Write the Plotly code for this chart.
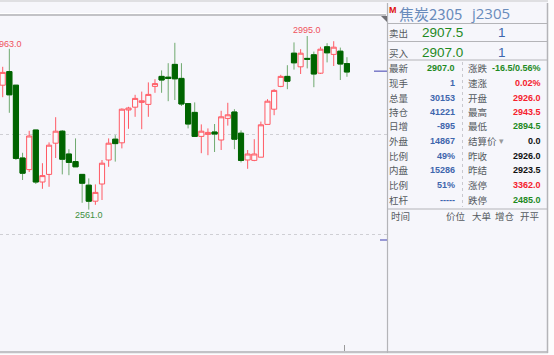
import plotly.graph_objects as go

opens  = [2872,2906,2872,2690,2661,2760,2630,2649,2727,2757,2700,2681,2649,2622,2582,2625,2685,2737,2728,2810,2817,2829,2824,2869,2894,2892,2924,2889,2826,2804,2744,2749,2755,2735,2789,2805,2752,2685,2684,2692,2774,2812,2869,2894,2952,2918,2939,2948,2902,2968,2949,2957,2926]
highs  = [2918,2963,2872,2703,2758,2760,2677,2729,2792,2760,2712,2739,2649,2639,2624,2685,2739,2747,2814,2818,2848,2856,2879,2887,2909,2927,2978,2927,2826,2829,2774,2764,2775,2808,2828,2812,2759,2710,2737,2781,2837,2862,2898,2922,2979,2962,2995,2956,2968,2977,2982,2966,2942]
lows   = [2842,2803,2685,2635,2655,2625,2613,2618,2690,2649,2647,2668,2578,2561,2573,2585,2668,2681,2714,2763,2793,2762,2793,2853,2853,2832,2835,2820,2764,2744,2702,2697,2705,2710,2771,2712,2679,2663,2682,2692,2774,2797,2867,2862,2911,2900,2914,2867,2900,2929,2920,2885,2893]
closes = [2904,2848,2689,2652,2745,2630,2646,2722,2757,2687,2679,2668,2627,2582,2604,2677,2727,2726,2812,2815,2839,2833,2849,2876,2885,2889,2888,2825,2775,2744,2757,2754,2750,2793,2798,2737,2684,2700,2700,2773,2832,2859,2894,2882,2928,2952,2937,2900,2962,2953,2967,2925,2905]
positions = list(range(len(opens)))

grid_prices = [2750, 2500]
last_price = 2907
limit_down = 2485

title_left = "焦炭2305"
title_right = "j2305"
ask = ("卖出", "2907.5", "1")
bid = ("买入", "2907.0", "1")

GREEN, RED, BLUE, BLACK = "#1f8a1f", "#f5222d", "#3f66ad", "#111111"
left_rows = [("最新","2907.0",GREEN),("现手","1",BLUE),("总量","30153",BLUE),("持仓","41221",BLUE),("日增","-895",BLUE),
             ("外盘","14867",BLUE),("比例","49%",BLUE),("内盘","15286",BLUE),("比例","51%",BLUE),("杠杆","-----",BLUE)]
right_rows = [("涨跌","-16.5/0.56%",GREEN),("速涨","0.02%",RED),("开盘","2926.0",RED),("最高","2943.5",RED),("最低","2894.5",GREEN),
              ("结算价","0.0",BLACK),("昨收","2926.0",BLACK),("昨结","2923.5",BLACK),("涨停","3362.0",RED),("跌停","2485.0",GREEN)]
row_y = [68.5,83,97.5,112,126.5,141,155.5,170,185,199.5]
footer = [("时间",391),("价位",446),("大单",472),("增仓",495),("开平",520)]

W, H = 554, 355
BG = "#f6f6fb"
LINE = "#b4b4b8"
LABEL = "#555a60"
CJK = "Noto Sans CJK SC"
NUM = "Liberation Sans"

def px(x): return x / W
def py(y): return 1 - y / H

fig = go.Figure(go.Candlestick(
    x=positions, open=opens, high=highs, low=lows, close=closes,
    increasing=dict(line=dict(color="#ff5a64", width=1), fillcolor="#fafafd"),
    decreasing=dict(line=dict(color="#6fa96f", width=1), fillcolor="#006400"),
    whiskerwidth=0, hoverinfo="skip", showlegend=False,
))
# darker bodies over the lighter green wicks
fig.add_trace(go.Candlestick(
    x=positions, open=opens, close=closes,
    high=[max(o, c) for o, c in zip(opens, closes)],
    low=[min(o, c) for o, c in zip(opens, closes)],
    increasing=dict(line=dict(color="rgba(0,0,0,0)", width=0), fillcolor="rgba(0,0,0,0)"),
    decreasing=dict(line=dict(color="#006400", width=1), fillcolor="#006400"),
    whiskerwidth=0, hoverinfo="skip", showlegend=False,
))

shapes = []
def rect(x0, y0, x1, y1, color):
    shapes.append(dict(type="rect", xref="paper", yref="paper", x0=px(x0), x1=px(x1), y0=py(y0), y1=py(y1),
                       fillcolor=color, line=dict(width=0), layer="below"))
def hline(x0, x1, y, color=LINE, w=1, dash="solid"):
    shapes.append(dict(type="line", xref="paper", yref="paper", x0=px(x0), x1=px(x1), y0=py(y), y1=py(y),
                       line=dict(color=color, width=w, dash=dash), layer="above"))
def vline(x, y0, y1, color=LINE, w=1, dash="solid"):
    shapes.append(dict(type="line", xref="paper", yref="paper", x0=px(x), x1=px(x), y0=py(y0), y1=py(y1),
                       line=dict(color=color, width=w, dash=dash), layer="above"))

rect(0, 0, 554, 2, "#dfdfe2")
rect(0, 13, 386, 14, "#ffffff")
rect(0, 14, 386, 16, "#c2c2c6")
rect(548, 0, 554, 355, "#fdfdfe")
rect(0, 351, 548, 353.5, "#c2c2c6")
rect(0, 353.5, 554, 355, "#fdfdfe")
vline(387.5, 3, 353, LINE, 1.2)
vline(547.5, 3, 353, LINE, 1.5)
for y in (23.5, 41.5, 60):
    hline(387, 547, y)
hline(387, 547, 209)
vline(462.5, 62, 207, "#c9c9cf", 1, "dot")
vline(344.5, 345, 351, "#9a9a9a", 1)
shapes.append(dict(type="path", xref="paper", yref="paper",
                   path=f"M {px(381)} {py(16)} L {px(387)} {py(16)} L {px(387)} {py(22)} Z",
                   fillcolor="#707075", line=dict(width=0)))
for p, x0 in ((last_price, 374), (limit_down, 380)):
    shapes.append(dict(type="line", xref="paper", yref="y", x0=px(x0), x1=px(387), y0=p, y1=p,
                       line=dict(color="#7a7ac8", width=1.5)))

ann = []
def text(x, y, s, size, color, anchor="left", family=CJK, bold=False):
    ann.append(dict(xref="paper", yref="paper", x=px(x), y=py(y), text=f"<b>{s}</b>" if bold else s,
                    showarrow=False, xanchor=anchor, yanchor="middle", borderpad=0, borderwidth=0,
                    font=dict(size=size, color=color, family=family)))

for i, p, s, c, kw in [(46, highs[46], "2995.0", "#f0525c", dict(xanchor="center", yanchor="bottom")),
                       (1, highs[1], "963.0", "#f0525c", dict(xanchor="right", yanchor="bottom", xshift=14, yshift=-1)),
                       (13, lows[13], "2561.0", "#3d8f3d", dict(xanchor="center", yanchor="top", yshift=1))]:
    ann.append(dict(x=i, y=p, xref="x", yref="y", text=s, showarrow=False, borderpad=0,
                    font=dict(size=9, color=c, family=NUM), **kw))

text(393, 10, "<b>M</b>", 9, "#e01010", "center", "Liberation Sans")
text(399, 13.5, title_left, 15, "#6a8cbc")
text(471, 13.5, title_right, 15, "#6a8cbc", family="Open Sans")
for (lab, price, vol), y in ((ask, 33), (bid, 52.5)):
    text(389, y, lab, 9.5, LABEL)
    text(442, y, price, 13.5, "#1f8a1f", "center", NUM)
    text(502, y, vol, 13.5, BLUE, "center", NUM)
for (lab, val, col), y in zip(left_rows, row_y):
    text(389, y, lab, 9.5, LABEL)
    text(455, y, val, 9, col, "right", NUM, True)
for (lab, val, col), y in zip(right_rows, row_y):
    text(468, y, lab, 9.5, LABEL)
    text(541, y, val, 9, col, "right", NUM, True)
text(499, 141, "▾", 9, "#9a9a9a", "left", "DejaVu Sans")
for lab, x in footer:
    text(x, 216, lab, 9.5, LABEL)

fig.update_layout(
    width=W, height=H, autosize=False, margin=dict(l=0, r=0, t=0, b=0, pad=0),
    paper_bgcolor=BG, plot_bgcolor=BG, shapes=shapes, annotations=ann, showlegend=False,
    boxgap=0.12, boxgroupgap=0.12, boxmode="overlay",
    xaxis=dict(domain=[0, 387/W], range=[-0.41, 58.05], visible=False, rangeslider=dict(visible=False), fixedrange=True),
    yaxis=dict(domain=[4/H, 339/H], range=[2207.5, 3045], tickvals=grid_prices, showticklabels=False, ticks="",
               showgrid=True, gridcolor="#cfcfd4", griddash="dot", gridwidth=1, zeroline=False, showline=False, fixedrange=True),
)
fig.write_html("out.html", config=dict(displayModeBar=False, responsive=False),
               post_script="document.body.style.margin='0';document.body.style.overflow='hidden';")
